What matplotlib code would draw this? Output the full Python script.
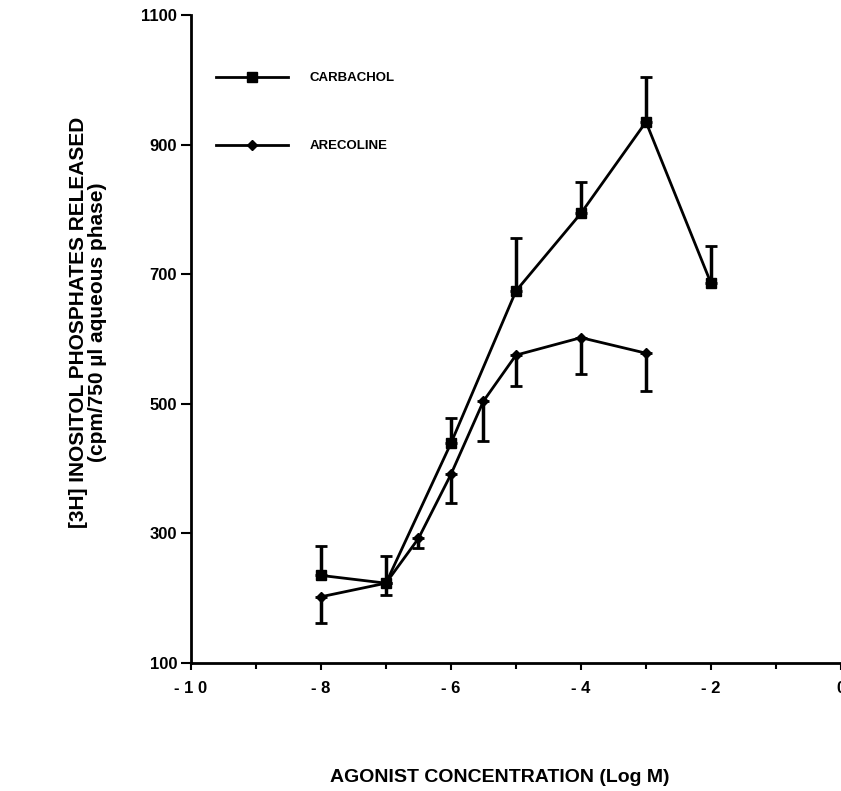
import matplotlib
matplotlib.use("Agg")
from matplotlib import pyplot as plt
from matplotlib.lines import Line2D
from matplotlib.ticker import MultipleLocator

# carbachol: mean and upper error bar end
carb_x = [-8, -7, -6, -5, -4, -3, -2]
carb_y = [235, 223, 439, 674, 794, 935, 686]
carb_top = [280, 265, 478, 756, 842, 1005, 743]

# arecoline: mean and lower error bar end
arec_x = [-8, -7, -6.5, -6, -5.5, -5, -4, -3]
arec_y = [202, 223, 292, 391, 504, 575, 602, 578]
arec_bot = [161, 205, 277, 347, 443, 527, 546, 519]

x_ticks = [-10, -8, -6, -4, -2, 0]
x_labels = ["- 1 0", "- 8", "- 6", "- 4", "- 2", "0"]
y_ticks = [100, 300, 500, 700, 900, 1100]

plt.rcParams['font.family'] = ['Liberation Sans', 'DejaVu Sans']
plt.rcParams['font.weight'] = 'bold'

fig = plt.figure(figsize=(8.41, 7.91), dpi=100)
ax = fig.add_axes([0.227, 0.162, 0.773, 0.819])

carb_err = [[0] * len(carb_y), [t - y for t, y in zip(carb_top, carb_y)]]
arec_err = [[y - b for b, y in zip(arec_bot, arec_y)], [0] * len(arec_y)]

ax.errorbar(carb_x, carb_y, yerr=carb_err, color='black', lw=2,
            marker='s', ms=7, capsize=4, capthick=2, elinewidth=2.5)
ax.errorbar(arec_x, arec_y, yerr=arec_err, color='black', lw=2,
            marker='D', ms=5.5, capsize=4, capthick=2, elinewidth=2.5)

ax.set_xlim(-10, 0)
ax.set_ylim(100, 1100)
ax.set_xticks(x_ticks)
ax.set_xticklabels(x_labels)
ax.xaxis.set_minor_locator(MultipleLocator(1))
ax.set_yticks(y_ticks)

for side in ['top', 'right']:
    ax.spines[side].set_visible(False)
ax.spines['left'].set_linewidth(2)
ax.spines['bottom'].set_linewidth(2)
ax.tick_params(axis='both', which='major', direction='out', width=1.5,
               length=5, labelsize=12)
ax.tick_params(axis='x', which='minor', direction='out', width=1.5, length=4)
ax.tick_params(axis='y', which='major', length=7, pad=3)
ax.tick_params(axis='x', which='major', pad=8)
for lab in ax.get_xticklabels() + ax.get_yticklabels():
    lab.set_fontweight('bold')

fig.text(500 / 841, 1 - 777 / 791, 'AGONIST CONCENTRATION (Log M)',
         fontsize=14, fontweight='bold', ha='center', va='center')
fig.text(88 / 841, 1 - 322 / 791,
         '[3H] INOSITOL PHOSPHATES RELEASED\n(cpm/750 \u00b5l aqueous phase)',
         fontsize=15, fontweight='bold', ha='center', va='center',
         rotation=90, linespacing=1.05, multialignment='center')

handles = [
    Line2D([], [], color='black', lw=2, marker='s', ms=7),
    Line2D([], [], color='black', lw=2, marker='D', ms=5.5),
]
ax.legend(handles, ['CARBACHOL', 'ARECOLINE'], loc='upper left',
          bbox_to_anchor=(0.02, 0.93), frameon=False,
          handlelength=5.5, handletextpad=1.6, labelspacing=4.2,
          prop={'weight': 'bold', 'size': 9.5})

fig.savefig('out.png', dpi=100)
